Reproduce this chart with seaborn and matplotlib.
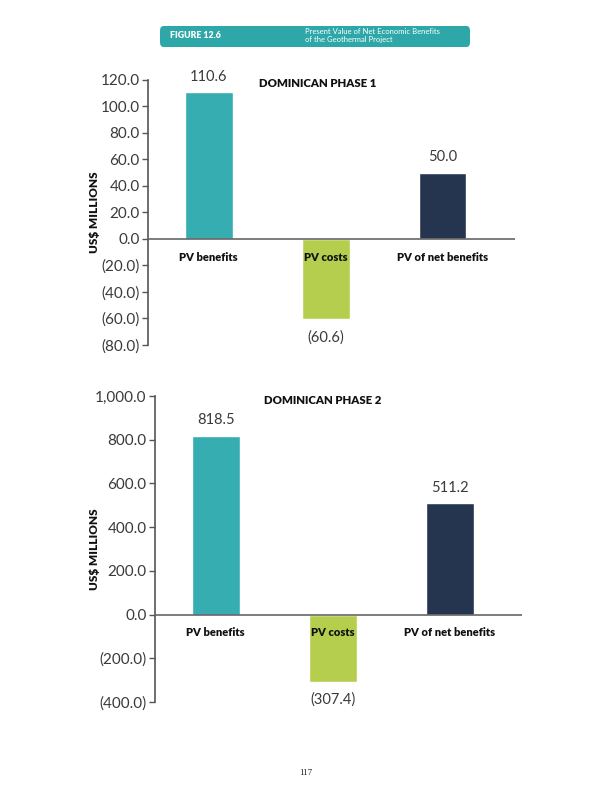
#!/usr/bin/env python
# -*- coding: utf-8 -*-
"""Figure 12.6 - PV of net economic benefits, Dominican geothermal project"""

import pandas as pd
import seaborn as sns
import matplotlib.pyplot as plt
from matplotlib.patches import FancyBboxPatch
from matplotlib.ticker import FuncFormatter

# data
categories = ['PV benefits', 'PV costs', 'PV of net benefits']
phase1_values = [110.6, -60.6, 50.0]
phase2_values = [818.5, -307.4, 511.2]
phase1_ticks = [120, 100, 80, 60, 40, 20, 0, -20, -40, -60, -80]
phase2_ticks = [1000, 800, 600, 400, 200, 0, -200, -400]
titles = ['DOMINICAN PHASE 1', 'DOMINICAN PHASE 2']

bar_colors = ['#36aeb1', '#b6ce4e', '#25354f']
header_color = '#2ea7a9'

sns.set_style('white')
plt.rcParams['font.family'] = ['Lato', 'DejaVu Sans']


def fmt(v, pos=None):
    s = f'{abs(v):,.1f}'
    return f'({s})' if v < 0 else s


def draw_panel(ax, values, ticks, title, title_x, label_x):
    df = pd.DataFrame({'cat': categories, 'val': values})
    sns.barplot(data=df, x='cat', y='val', hue='cat', palette=bar_colors,
                legend=False, width=0.41, ax=ax, saturation=1)
    ax.set_xlim(-0.52, 2.62)
    ax.set_ylim(min(ticks), max(ticks))
    ax.set_yticks(ticks)
    ax.yaxis.set_major_formatter(FuncFormatter(fmt))
    ax.tick_params(axis='y', left=True, direction='out', length=4, width=1,
                   color='#555555', labelsize=11, labelcolor='#3a3a3a', pad=2)
    ax.set_xticks([])
    ax.set_xlabel('')
    for s in ['top', 'right', 'bottom']:
        ax.spines[s].set_visible(False)
    ax.spines['left'].set_color('#555555')
    ax.spines['left'].set_linewidth(1.2)
    ax.axhline(0, color='#666666', lw=1.2, zorder=3)

    # category labels under the zero line
    for i, c in enumerate(categories):
        ax.annotate(c, (i, 0), xytext=(0, -13), textcoords='offset points',
                    ha='center', va='center', fontsize=8, fontweight='heavy',
                    color='#111111', zorder=5)
    # value labels
    for i, v in enumerate(values):
        off = 11 if v >= 0 else -13
        ax.annotate(fmt(v), (i, v), xytext=(0, off), textcoords='offset points',
                    ha='center', va='center', fontsize=10.5, color='#3a3a3a')

    ax.text(title_x, 0.985, title, transform=ax.transAxes, ha='center', va='center',
            fontsize=8.2, fontweight='heavy', color='#111111')
    ax.set_ylabel('US$ MILLIONS', fontsize=8.5, fontweight='heavy', color='#111111')
    ax.yaxis.set_label_coords(label_x, 0.5)


fig = plt.figure(figsize=(6.12, 7.92), dpi=100)

ax1 = fig.add_axes([0.2418, 0.5644, 0.5997, 0.3346])
draw_panel(ax1, phase1_values, phase1_ticks, titles[0], 0.463, -0.131)

ax2 = fig.add_axes([0.2533, 0.1136, 0.5997, 0.3864])
draw_panel(ax2, phase2_values, phase2_ticks, titles[1], 0.458, -0.15)

# header banner
banner = FancyBboxPatch((160 / 612, 1 - 47 / 792), 310 / 612, 21 / 792,
                        boxstyle='round,pad=0,rounding_size=0.006',
                        transform=fig.transFigure, facecolor=header_color,
                        edgecolor='none')
fig.patches.append(banner)
fig.text(170 / 612, 1 - 35 / 792, 'FIGURE 12.6', ha='left', va='center',
         fontsize=6.3, fontweight='heavy', color='white')
fig.text(305 / 612, 1 - 35.5 / 792,
         'Present Value of Net Economic Benefits\nof the Geothermal Project',
         ha='left', va='center', fontsize=5.5, color='white', linespacing=1.05)

# page number
fig.text(306 / 612, 1 - 773 / 792, '117', ha='center', va='center',
         fontsize=6.5, family='Liberation Serif', color='#222222')

plt.savefig('out.png', dpi=100)
plt.close()
